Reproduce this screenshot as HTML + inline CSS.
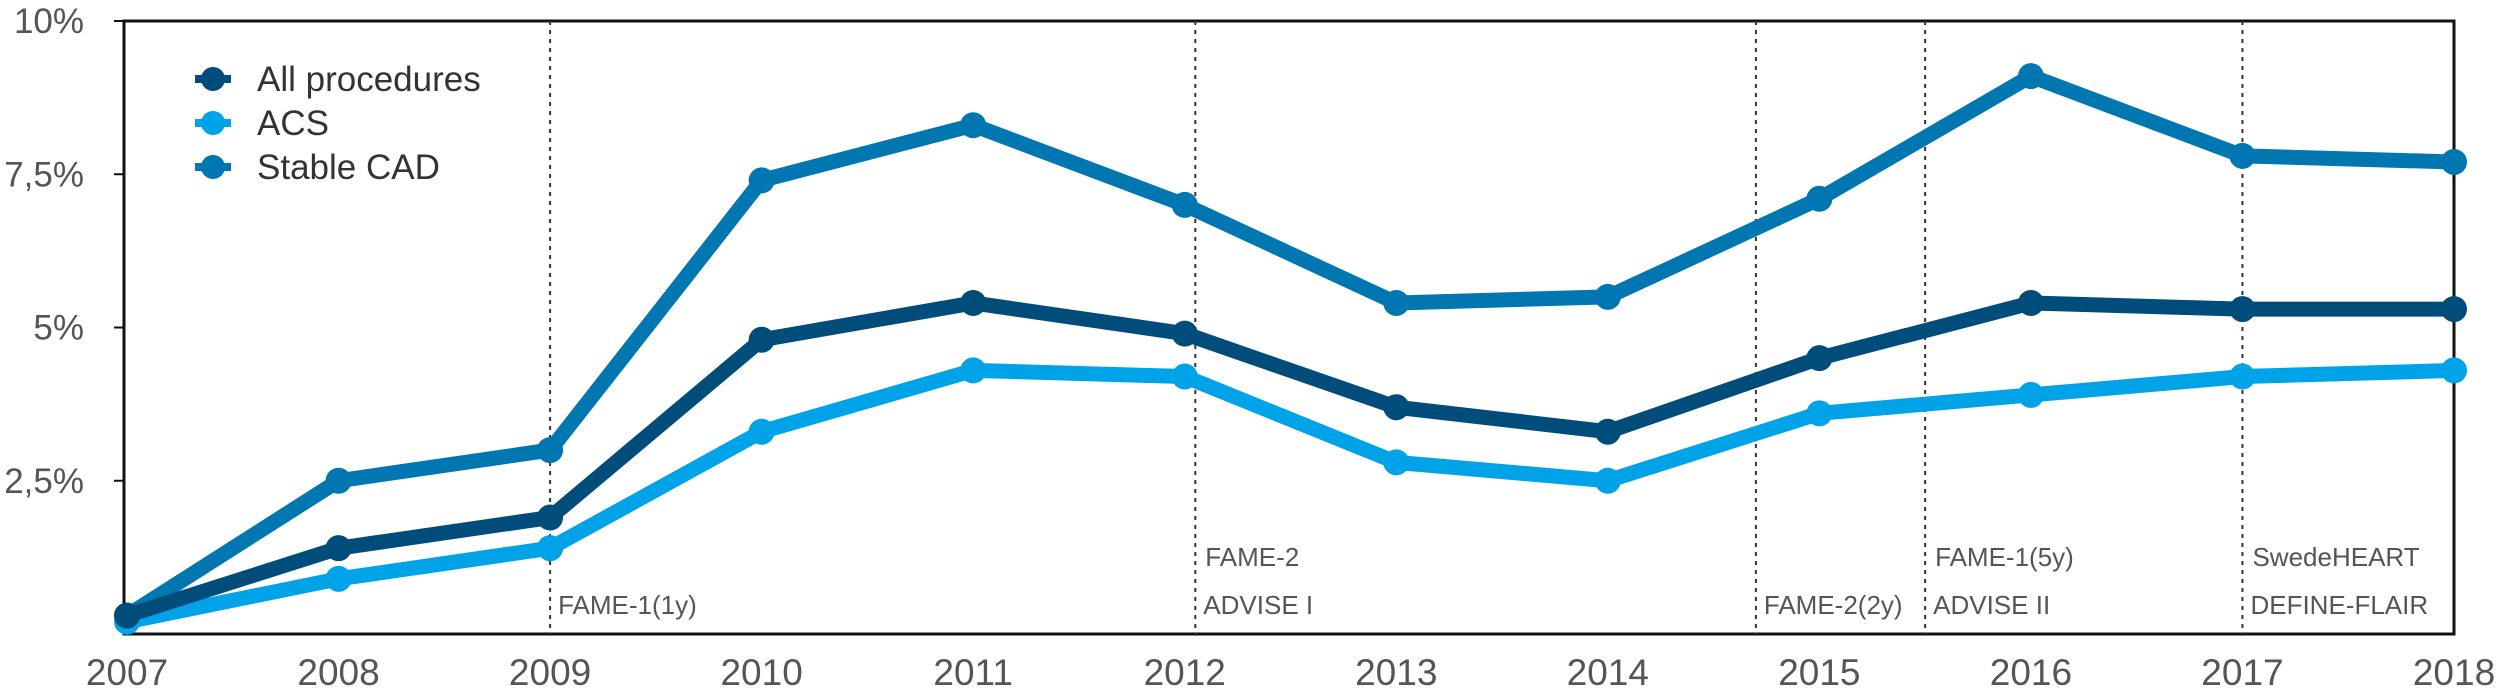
<!DOCTYPE html>
<html><head><meta charset="utf-8"><style>
html,body{margin:0;padding:0;background:#fff;}
svg{display:block;font-family:"Liberation Sans",sans-serif;}
</style></head><body>
<svg id="chart" width="2508" height="690" viewBox="0 0 2508 690" xmlns="http://www.w3.org/2000/svg"></svg>
<script>
const years = ['2007','2008','2009','2010','2011','2012','2013','2014','2015','2016','2017','2018'];
const allProcedures = [0.3,1.4,1.9,4.8,5.4,4.9,3.7,3.3,4.5,5.4,5.3,5.3];
const acs = [0.2,0.9,1.4,3.3,4.3,4.2,2.8,2.5,3.6,3.9,4.2,4.3];
const stableCad = [0.3,2.5,3.0,7.4,8.3,7.0,5.4,5.5,7.1,9.1,7.8,7.7];
const yTicks = [2.5,5,7.5,10];
const yTickLabels = ['2,5%','5%','7,5%','10%'];
const markerYears = [2009,2012.05,2014.7,2015.5,2017];
const markerLines1 = ['','FAME-2','','FAME-1(5y)','SwedeHEART'];
const markerLines2 = ['FAME-1(1y)','ADVISE I','FAME-2(2y)','ADVISE II','DEFINE-FLAIR'];

const svg = document.getElementById('chart');
const NS = 'http://www.w3.org/2000/svg';
const L = 124, R = 2454, T = 21, B = 634;
const x0 = 127, dx = (2454 - 127) / 11;
const xs = i => x0 + i * dx;
const xYear = y => x0 + (y - 2007) * dx;
const ys = v => B - v * (B - T) / 10;
function mk(tag, attrs, parent) {
  const e = document.createElementNS(NS, tag);
  for (const k in attrs) e.setAttribute(k, attrs[k]);
  (parent || svg).appendChild(e);
  return e;
}

const frame = mk('rect', {x: L, y: T, width: R - L, height: B - T, fill: 'none', stroke: '#111', 'stroke-width': 3});



yTicks.forEach((v, i) => {
  const t = mk('line', {x1: L - 10, x2: L, y1: ys(v), y2: ys(v), stroke: '#111', 'stroke-width': 2});
  
  
  const lb = mk('text', {x: 84, y: ys(v) + 12, 'text-anchor': 'end', 'font-size': 35, fill: '#555'});
  lb.textContent = yTickLabels[i];
  
  
});

years.forEach((yr, i) => {
  const lb = mk('text', {x: xs(i), y: 685, 'text-anchor': 'middle', 'font-size': 37, fill: '#555'});
  lb.textContent = yr;
  
  
});

markerYears.forEach((yr, i) => {
  const x = xYear(yr);
  const ln = mk('line', {x1: x, x2: x, y1: T, y2: B, stroke: '#333', 'stroke-width': 2, 'stroke-dasharray': '4,5'});
  
  
  if (markerLines1[i]) {
    const t1 = mk('text', {x: x + 10, y: 566, 'font-size': 26, fill: '#555'});
    t1.textContent = markerLines1[i];
    
    
  }
  const t2 = mk('text', {x: x + 8, y: 614, 'font-size': 26, fill: '#555'});
  t2.textContent = markerLines2[i];
  
  
});

const series = [
  {name: 'stable-cad', data: stableCad, color: '#0077b0'},
  {name: 'acs', data: acs, color: '#00a3e8'},
  {name: 'all-procedures', data: allProcedures, color: '#004c7a'}
];
series.forEach(s => {
  const g = mk('g', {});
  
  
  const pts = s.data.map((v, i) => xs(i) + ',' + ys(v)).join(' ');
  const pl = mk('polyline', {points: pts, fill: 'none', stroke: s.color, 'stroke-width': 15, 'stroke-linejoin': 'round'}, g);
  
  
  s.data.forEach((v, i) => {
    const c = mk('circle', {cx: xs(i), cy: ys(v), r: 13, fill: s.color}, g);
    
    
  });
});

const legendItems = [['All procedures', '#004c7a'], ['ACS', '#00a3e8'], ['Stable CAD', '#0077b0']];
const lg = mk('g', {});


legendItems.forEach((it, i) => {
  const y = 79 + i * 44;
  const ln = mk('line', {x1: 195, x2: 231, y1: y, y2: y, stroke: it[1], 'stroke-width': 8}, lg);
  
  
  const c = mk('circle', {cx: 213, cy: y, r: 12, fill: it[1]}, lg);
  
  
  const t = mk('text', {x: 257, y: y + 12, 'font-size': 35, fill: '#333'}, lg);
  t.textContent = it[0];
  
  
});
</script>
</body></html>
